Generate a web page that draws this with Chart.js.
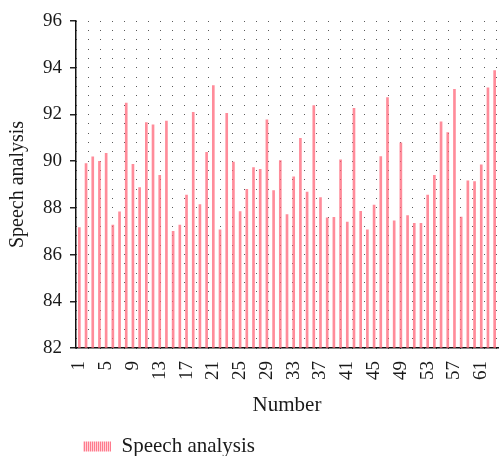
<!DOCTYPE html>
<html>
<head>
<meta charset="utf-8">
<script src="https://cdn.jsdelivr.net/npm/chart.js@4/dist/chart.umd.min.js"></script>
<style>
  html, body { margin: 0; padding: 0; background: #fff; overflow: hidden; }
  canvas { display: block; }
</style>
</head>
<body>
<canvas id="c" width="502" height="456"></canvas>
<script>
// Sample numbers (x categories)
const numbers = ['1','2','3','4','5','6','7','8','9','10','11','12','13','14','15','16','17','18','19','20',
  '21','22','23','24','25','26','27','28','29','30','31','32','33','34','35','36','37','38','39','40',
  '41','42','43','44','45','46','47','48','49','50','51','52','53','54','55','56','57','58','59','60',
  '61','62','63'];

// Speech analysis score per sample
const speechAnalysis = [87.16, 89.90, 90.19, 89.99, 90.33, 87.26, 87.83, 92.49, 89.86, 88.87,
  91.65, 91.56, 89.39, 91.71, 86.99, 87.26, 88.55, 92.09, 88.14, 90.38,
  93.23, 87.06, 92.05, 89.96, 87.84, 88.79, 89.72, 89.65, 91.77, 88.74,
  90.02, 87.71, 89.33, 90.98, 88.68, 92.38, 88.44, 87.57, 87.59, 90.06,
  87.39, 92.26, 87.85, 87.06, 88.12, 90.20, 92.72, 87.44, 90.78, 87.67,
  87.34, 87.34, 88.55, 89.39, 91.68, 91.22, 93.07, 87.60, 89.16, 89.12,
  89.84, 93.14, 93.88];

// Labelled x ticks and y ticks
const xTickLabels = ['1','5','9','13','17','21','25','29','33','37','41','45','49','53','57','61'];
const yTicks = [82, 84, 86, 88, 90, 92, 94, 96];

const SERIF = '"Liberation Serif", "DejaVu Serif", serif';
const TEXT = '#1a1a1a';

// striped fill for the legend swatch
function stripePattern() {
  const c = document.createElement('canvas');
  c.width = 2; c.height = 2;
  const g = c.getContext('2d');
  g.fillStyle = '#ffd3d8'; g.fillRect(0, 0, 2, 2);
  g.fillStyle = '#ff7a8c'; g.fillRect(0, 0, 1, 2);
  return g.createPattern(c, 'repeat');
}

// place the legend row under the plot, aligned with the y axis
const legendShift = {
  id: 'legendShift',
  afterLayout(chart) {
    const lg = chart.legend;
    lg.left = 79; lg.top += 11; lg.bottom += 11;
  }
};

new Chart(document.getElementById('c'), {
  type: 'bar',
  data: {
    labels: numbers,
    datasets: [{
      label: 'Speech analysis',
      data: speechAnalysis,
      backgroundColor: 'rgba(255, 95, 115, 0.72)',
      borderWidth: 0,
      barThickness: 2,
      yAxisID: 'y'
    }]
  },
  options: {
    responsive: false,
    animation: false,
    devicePixelRatio: 1,
    layout: { padding: { left: 0, right: 4, top: 21, bottom: 0 } },
    plugins: {
      tooltip: { enabled: false },
      legend: {
        position: 'bottom',
        align: 'start',
        labels: {
          boxWidth: 28,
          boxHeight: 10,
          padding: 4,
          color: TEXT,
          font: { family: SERIF, size: 21 },
          generateLabels(chart) {
            const items = Chart.defaults.plugins.legend.labels.generateLabels(chart);
            items.forEach(it => { it.fillStyle = stripePattern(); it.lineWidth = 0; it.strokeStyle = 'rgba(0,0,0,0)'; });
            return items;
          }
        }
      }
    },
    scales: {
      x: {
        offset: true,
        grid: { display: false, drawTicks: false },
        border: { display: true, color: '#111', width: 1.5 },
        ticks: {
          autoSkip: false,
          minRotation: 90,
          maxRotation: 90,
          padding: 13,
          color: TEXT,
          font: { family: SERIF, size: 19 },
          callback(value, index) {
            const lab = numbers[index];
            return xTickLabels.includes(lab) ? lab : '';
          }
        },
        title: {
          display: true,
          text: 'Number',
          color: TEXT,
          font: { family: SERIF, size: 21 },
          padding: { top: 0, bottom: 3 }
        },
        afterFit(s) { s.height = 73; s.paddingLeft = 0; s.paddingRight = 0; }
      },
      y: {
        position: 'left',
        min: 82,
        max: 96,
        afterBuildTicks(s) { s.ticks = yTicks.map(v => ({ value: v })); },
        grid: { drawOnChartArea: false, drawTicks: true, tickLength: 6, color: '#222', lineWidth: 1.5 },
        border: { display: true, color: '#111', width: 1.5 },
        ticks: {
          padding: 8,
          color: TEXT,
          font: { family: SERIF, size: 19 }
        },
        title: {
          display: true,
          text: 'Speech analysis',
          color: TEXT,
          font: { family: SERIF, size: 20 },
          padding: { top: 6, bottom: 0 }
        },
        afterFit(s) { s.width = 76; }
      },
      yGrid: {
        position: 'left',
        min: 82,
        max: 96,
        ticks: { display: false, stepSize: 0.4 },
        grid: { color: '#5a5a5a', lineWidth: 1, drawTicks: false },
        border: { display: false, dash: [1, 11] },
        afterFit(s) { s.width = 0; }
      }
    }
  },
  plugins: [legendShift]
});
</script>
</body>
</html>
